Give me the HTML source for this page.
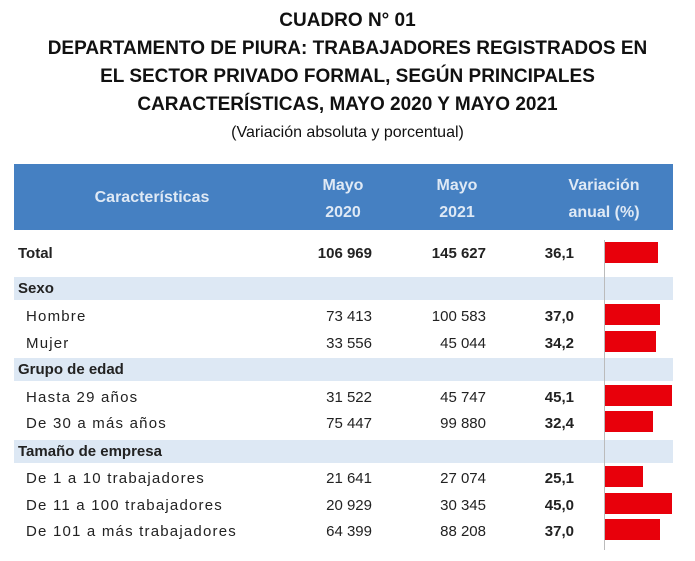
<!DOCTYPE html>
<html><head><meta charset="utf-8"><style>
body{margin:0;width:695px;height:561px;background:#fff;position:relative;font-family:"Liberation Sans",sans-serif;overflow:hidden}
.t{position:absolute;left:0;width:695px;text-align:center;font-weight:bold;font-size:19px;color:#111}
.a{position:absolute;white-space:nowrap;font-size:15px;color:#222}
.l{letter-spacing:1.2px}
.r{text-align:right}
.b{font-weight:bold}
.sec{position:absolute;left:14px;width:659px;height:23px;background:#dde8f4}
.bar{position:absolute;left:605px;height:21px;background:#e8000b}
.h{position:absolute;color:#dfe9f5;font-weight:bold;font-size:16px;text-align:center;white-space:nowrap;line-height:27px}
</style></head><body>
<div class="t" style="top:10px">CUADRO N° 01</div>
<div class="t" style="top:38px">DEPARTAMENTO DE PIURA: TRABAJADORES REGISTRADOS EN</div>
<div class="t" style="top:66px">EL SECTOR PRIVADO FORMAL, SEGÚN PRINCIPALES</div>
<div class="t" style="top:94px">CARACTERÍSTICAS, MAYO 2020 Y MAYO 2021</div>
<div class="t" style="top:124px;font-weight:normal;font-size:16px">(Variación absoluta y porcentual)</div>
<div style="position:absolute;left:14px;top:164px;width:659px;height:66px;background:#4580c2"></div>
<div class="h" style="left:52px;width:200px;top:184px">Características</div>
<div class="h" style="left:293px;width:100px;top:172px">Mayo<br>2020</div>
<div class="h" style="left:407px;width:100px;top:172px">Mayo<br>2021</div>
<div class="h" style="left:549px;width:110px;top:172px">Variación<br>anual (%)</div>
<div class="sec" style="top:277px"></div>
<div class="sec" style="top:358px"></div>
<div class="sec" style="top:440px"></div>
<div style="position:absolute;left:604px;top:240px;width:1px;height:310px;background:#bbb"></div>
<div class="a b" style="left:18px;top:245px">Total</div>
<div class="a b r" style="left:272px;width:100px;top:245px">106 969</div>
<div class="a b r" style="left:386px;width:100px;top:245px">145 627</div>
<div class="a b r" style="left:500px;width:74px;top:245px">36,1</div>
<div class="bar" style="top:242px;width:53px"></div>
<div class="a b" style="left:18px;top:280px">Sexo</div>
<div class="a b" style="left:18px;top:361px">Grupo de edad</div>
<div class="a b" style="left:18px;top:443px">Tamaño de empresa</div>

<div class="a l" style="left:26px;top:308px">Hombre</div><div class="a r" style="left:272px;width:100px;top:308px">73 413</div><div class="a r" style="left:386px;width:100px;top:308px">100 583</div><div class="a b r" style="left:500px;width:74px;top:308px">37,0</div><div class="bar" style="top:304px;width:55px"></div>
<div class="a l" style="left:26px;top:335px">Mujer</div><div class="a r" style="left:272px;width:100px;top:335px">33 556</div><div class="a r" style="left:386px;width:100px;top:335px">45 044</div><div class="a b r" style="left:500px;width:74px;top:335px">34,2</div><div class="bar" style="top:331px;width:51px"></div>
<div class="a l" style="left:26px;top:389px">Hasta 29 años</div><div class="a r" style="left:272px;width:100px;top:389px">31 522</div><div class="a r" style="left:386px;width:100px;top:389px">45 747</div><div class="a b r" style="left:500px;width:74px;top:389px">45,1</div><div class="bar" style="top:385px;width:67px"></div>
<div class="a l" style="left:26px;top:415px">De 30 a más años</div><div class="a r" style="left:272px;width:100px;top:415px">75 447</div><div class="a r" style="left:386px;width:100px;top:415px">99 880</div><div class="a b r" style="left:500px;width:74px;top:415px">32,4</div><div class="bar" style="top:411px;width:48px"></div>
<div class="a l" style="left:26px;top:470px">De 1 a 10 trabajadores</div><div class="a r" style="left:272px;width:100px;top:470px">21 641</div><div class="a r" style="left:386px;width:100px;top:470px">27 074</div><div class="a b r" style="left:500px;width:74px;top:470px">25,1</div><div class="bar" style="top:466px;width:38px"></div>
<div class="a l" style="left:26px;top:497px">De 11 a 100 trabajadores</div><div class="a r" style="left:272px;width:100px;top:497px">20 929</div><div class="a r" style="left:386px;width:100px;top:497px">30 345</div><div class="a b r" style="left:500px;width:74px;top:497px">45,0</div><div class="bar" style="top:493px;width:67px"></div>
<div class="a l" style="left:26px;top:523px">De 101 a más trabajadores</div><div class="a r" style="left:272px;width:100px;top:523px">64 399</div><div class="a r" style="left:386px;width:100px;top:523px">88 208</div><div class="a b r" style="left:500px;width:74px;top:523px">37,0</div><div class="bar" style="top:519px;width:55px"></div>
</body></html>
